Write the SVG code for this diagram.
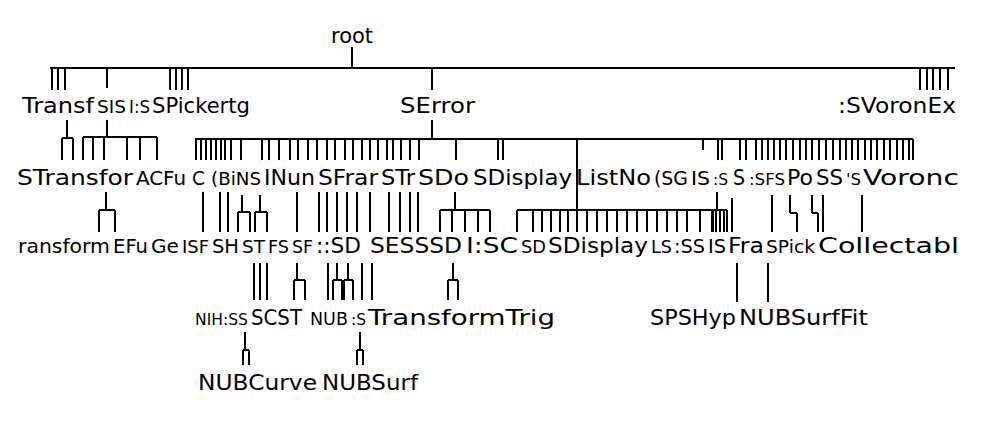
<svg xmlns="http://www.w3.org/2000/svg" width="990" height="436" viewBox="0 0 990 436">
<style>
.t{font-family:"DejaVu Sans","Liberation Sans",sans-serif;font-size:21px;fill:#000}
.c path{stroke:#000;stroke-width:2;fill:none}
</style>
<rect width="990" height="436" fill="#fff"/>
<g class="c" id="connectors">
<path d="M352 47V68M50 68H955"/>
<path d="M52 68V90M58 68V90M65 68V90M107 68V88M170 68V90M176 68V90M182 68V90M188 68V90M432 68V90M920 68V90M927 68V90M933 68V90M940 68V90M948 68V90"/>
<path d="M67 120V138M62 138H73M62 138V160M73 138V160"/>
<path d="M107 120V137M83 137H157M83 137V160M93 137V160M104 137V160M127 137V160M140 137V160M157 137V160"/>
<path d="M432 120V139M195 139H913"/>
<path d="M196 139V160M201 139V160M206 139V160M211 139V160M216 139V160M221 139V160M225 139V160M231 139V160M241 139V160M262 139V160M269 139V160M279 139V160M290 139V160M298 139V160M308 139V160M317 139V160M327 139V160M335 139V160M345 139V160M353 139V160M362 139V160M370 139V160M378 139V160M387 139V160M393 139V160M401 139V160M410 139V160M419 139V160M456 139V160M498 139V160M503 139V160M577 139V210M718 139V160"/>
<path d="M703 139V150M722 139V160M740 139V160M746 139V160M756 139V160M762 139V160M768 139V160M774 139V160M780 139V160M786 139V160M793 139V160M800 139V160M806 139V160M812 139V160M819 139V160M826 139V160M833 139V160M840 139V160M846 139V160M852 139V160M858 139V160M865 139V160M871 139V160M877 139V160M884 139V160M890 139V160M897 139V160M903 139V160M909 139V160M913 139V160"/>
<path d="M106 192V210M99 210H115M99 210V232M115 210V232"/>
<path d="M203 192V232M220 192V232M228 192V232M242 195V212M238 212H250M238 212V232M250 212V232M260 195V212M255 212H267M255 212V232M267 212V232"/>
<path d="M297 192V232M319 192V232M327 192V232M337 192V232M347 192V232M357 192V232M370 192V232M389 192V232M400 192V232M410 192V232M418 192V232"/>
<path d="M455 192V210M440 210H490M440 210V232M452 210V232M465 210V232M478 210V232M490 210V232"/>
<path d="M517 210H720M517 210V232M533 210V232M542 210V232M551 210V232M560 210V232M568 210V232M577 210V232M587 210V232M597 210V232M607 210V232M617 210V232M627 210V232M637 210V232M647 210V232M657 210V232M667 210V232M677 210V232M687 210V232M700 210V232M713 210V232M720 210V232"/>
<path d="M717 192V210M712 210H727M712 210V232M716 210V232M720 210V232M724 210V232M727 210V232M732 198V232"/>
<path d="M772 195V232M790 195V213M790 213H797M797 213V232M812 195V213M812 213H818M818 213V232M823 195V232M862 195V232"/>
<path d="M254 263V300M260 263V300M267 263V300M297 263V280M294 280H305M294 280V300M305 280V300M328 263V300M337 263V280M333 280H342M333 280V300M342 280V300M348 263V280M344 280H353M344 280V300M353 280V300M362 263V300M372 263V300"/>
<path d="M453 263V280M448 280H458M448 280V300M458 280V300M737 263V302M768 263V302"/>
<path d="M245 332V350M243 350H249M243 350V365M249 350V365M360 332V350M357 350H363M357 350V365M363 350V365"/>
</g>
<g id="n-root"><text class="t" x="331" y="43">root</text></g>
<g id="n-transf"><text class="t" x="22" y="113" textLength="72" lengthAdjust="spacingAndGlyphs">Transf</text></g>
<g id="n-sis"><text class="t" x="97" y="113" style="font-size:18.4px" textLength="29" lengthAdjust="spacingAndGlyphs">SIS</text></g>
<g id="n-is"><text class="t" x="129" y="113" style="font-size:17px" textLength="21" lengthAdjust="spacingAndGlyphs">I:S</text></g>
<g id="n-spicker"><text class="t" x="152" y="113" textLength="98" lengthAdjust="spacingAndGlyphs">SPickertg</text></g>
<g id="n-serror"><text class="t" x="400" y="113" textLength="75" lengthAdjust="spacingAndGlyphs">SError</text></g>
<g id="n-svoronex"><text class="t" x="838" y="113" textLength="118" lengthAdjust="spacingAndGlyphs">:SVoronEx</text></g>

<g id="n-stransfor"><text class="t" x="17" y="185" textLength="116" lengthAdjust="spacingAndGlyphs">STransfor</text></g>
<g id="n-acfu"><text class="t" x="136" y="185" style="font-size:19.2px" textLength="50" lengthAdjust="spacingAndGlyphs">ACFu</text></g>
<g id="n-c"><text class="t" x="192" y="185" style="font-size:19px" textLength="13" lengthAdjust="spacingAndGlyphs">C</text></g>
<g id="n-cbins"><text class="t" x="211" y="185" style="font-size:18.2px" textLength="50" lengthAdjust="spacingAndGlyphs">(BiNS</text></g>
<g id="n-inun"><text class="t" x="264" y="185" textLength="51" lengthAdjust="spacingAndGlyphs">INun</text></g>
<g id="n-sfrar"><text class="t" x="318" y="185" textLength="60" lengthAdjust="spacingAndGlyphs">SFrar</text></g>
<g id="n-str"><text class="t" x="381" y="185" style="font-size:20.4px" textLength="34" lengthAdjust="spacingAndGlyphs">STr</text></g>
<g id="n-sdo"><text class="t" x="418" y="185" textLength="51" lengthAdjust="spacingAndGlyphs">SDo</text></g>
<g id="n-sdisplay"><text class="t" x="473" y="185" textLength="99" lengthAdjust="spacingAndGlyphs">SDisplay</text></g>
<g id="n-listno"><text class="t" x="576" y="185" textLength="75" lengthAdjust="spacingAndGlyphs">ListNo</text></g>
<g id="n-sg"><text class="t" x="654" y="185" style="font-size:18.8px" textLength="34" lengthAdjust="spacingAndGlyphs">(SG</text></g>
<g id="n-is2"><text class="t" x="691" y="185" style="font-size:20px" textLength="19" lengthAdjust="spacingAndGlyphs">IS</text></g>
<g id="n-cs"><text class="t" x="713" y="185" style="font-size:16px" textLength="15" lengthAdjust="spacingAndGlyphs">:S</text></g>
<g id="n-s2"><text class="t" x="733" y="185" textLength="12" lengthAdjust="spacingAndGlyphs">S</text></g>
<g id="n-sfs"><text class="t" x="749" y="185" style="font-size:16.4px" textLength="36" lengthAdjust="spacingAndGlyphs">:SFS</text></g>
<g id="n-po"><text class="t" x="787" y="185" textLength="26" lengthAdjust="spacingAndGlyphs">Po</text></g>
<g id="n-ss"><text class="t" x="816" y="185" style="font-size:20.4px" textLength="27" lengthAdjust="spacingAndGlyphs">SS</text></g>
<g id="n-qs"><text class="t" x="846" y="185" style="font-size:16px" textLength="15" lengthAdjust="spacingAndGlyphs">'S</text></g>
<g id="n-voronc"><text class="t" x="863" y="185" textLength="96" lengthAdjust="spacingAndGlyphs">Voronc</text></g>

<g id="n-ransform"><text class="t" x="18" y="253" style="font-size:20.2px" textLength="92" lengthAdjust="spacingAndGlyphs">ransform</text></g>
<g id="n-efu"><text class="t" x="113" y="253" style="font-size:19px" textLength="35" lengthAdjust="spacingAndGlyphs">EFu</text></g>
<g id="n-ge"><text class="t" x="151" y="253" style="font-size:20px" textLength="28" lengthAdjust="spacingAndGlyphs">Ge</text></g>
<g id="n-isf"><text class="t" x="182" y="253" style="font-size:18px" textLength="27" lengthAdjust="spacingAndGlyphs">ISF</text></g>
<g id="n-sh"><text class="t" x="212" y="253" style="font-size:19.4px" textLength="27" lengthAdjust="spacingAndGlyphs">SH</text></g>
<g id="n-st"><text class="t" x="242" y="253" style="font-size:18.4px" textLength="23" lengthAdjust="spacingAndGlyphs">ST</text></g>
<g id="n-fs"><text class="t" x="268" y="253" style="font-size:17.3px" textLength="21" lengthAdjust="spacingAndGlyphs">FS</text></g>
<g id="n-sf"><text class="t" x="292" y="253" style="font-size:17.3px" textLength="21" lengthAdjust="spacingAndGlyphs">SF</text></g>
<g id="n-sd1"><text class="t" x="316" y="253" textLength="45" lengthAdjust="spacingAndGlyphs">::SD</text></g>
<g id="n-sessd"><text class="t" x="370" y="253" textLength="92" lengthAdjust="spacingAndGlyphs">SESSSD</text></g>
<g id="n-isc"><text class="t" x="466" y="253" textLength="52" lengthAdjust="spacingAndGlyphs">I:SC</text></g>
<g id="n-sd2"><text class="t" x="521" y="253" style="font-size:17.8px" textLength="25" lengthAdjust="spacingAndGlyphs">SD</text></g>
<g id="n-sdisplay2"><text class="t" x="548" y="253" textLength="100" lengthAdjust="spacingAndGlyphs">SDisplay</text></g>
<g id="n-ls"><text class="t" x="651" y="253" style="font-size:17.6px" textLength="21" lengthAdjust="spacingAndGlyphs">LS</text></g>
<g id="n-ss2"><text class="t" x="674" y="253" style="font-size:19.2px" textLength="31" lengthAdjust="spacingAndGlyphs">:SS</text></g>
<g id="n-is3"><text class="t" x="708" y="253" style="font-size:19.3px" textLength="18" lengthAdjust="spacingAndGlyphs">IS</text></g>
<g id="n-fra"><text class="t" x="728" y="253" textLength="36" lengthAdjust="spacingAndGlyphs">Fra</text></g>
<g id="n-spick"><text class="t" x="766" y="253" style="font-size:18.5px" textLength="49" lengthAdjust="spacingAndGlyphs">SPick</text></g>
<g id="n-collectabl"><text class="t" x="818" y="253" textLength="141" lengthAdjust="spacingAndGlyphs">Collectabl</text></g>

<g id="n-nihss"><text class="t" x="195" y="325" style="font-size:15.6px" textLength="53" lengthAdjust="spacingAndGlyphs">NIH:SS</text></g>
<g id="n-scst"><text class="t" x="251" y="325" textLength="51" lengthAdjust="spacingAndGlyphs">SCST</text></g>
<g id="n-nub"><text class="t" x="310" y="325" style="font-size:17.5px" textLength="38" lengthAdjust="spacingAndGlyphs">NUB</text></g>
<g id="n-cs2"><text class="t" x="351" y="325" style="font-size:16px" textLength="15" lengthAdjust="spacingAndGlyphs">:S</text></g>
<g id="n-transformtrig"><text class="t" x="368" y="325" textLength="187" lengthAdjust="spacingAndGlyphs">TransformTrig</text></g>
<g id="n-spshyp"><text class="t" x="650" y="325" textLength="86" lengthAdjust="spacingAndGlyphs">SPSHyp</text></g>
<g id="n-nubsurffit"><text class="t" x="739" y="325" textLength="129" lengthAdjust="spacingAndGlyphs">NUBSurfFit</text></g>

<g id="n-nubcurve"><text class="t" x="198" y="390" textLength="119" lengthAdjust="spacingAndGlyphs">NUBCurve</text></g>
<g id="n-nubsurf"><text class="t" x="322" y="390" textLength="96" lengthAdjust="spacingAndGlyphs">NUBSurf</text></g>
</svg>
